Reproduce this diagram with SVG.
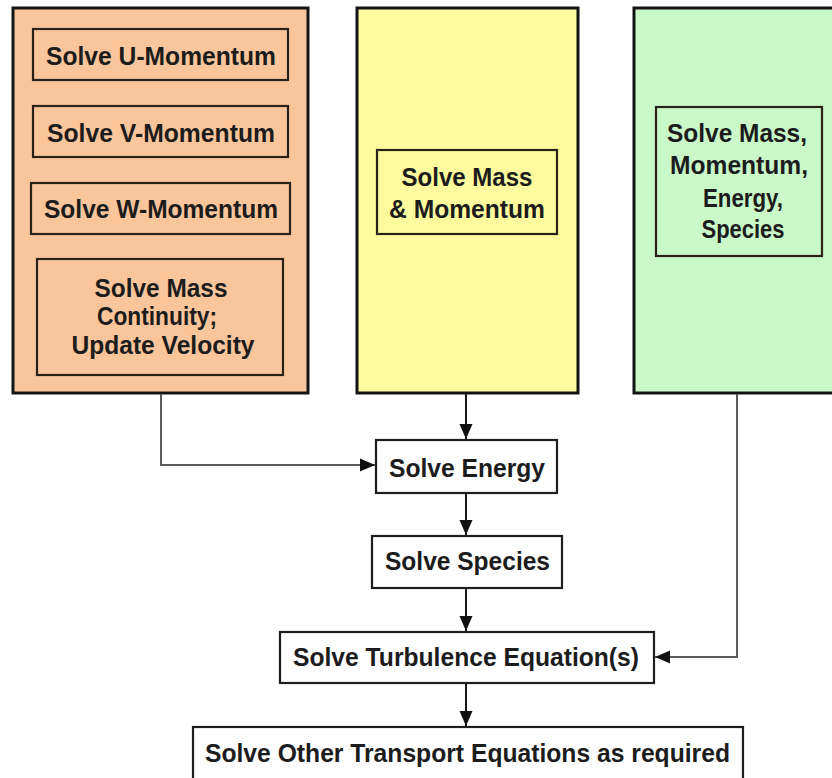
<svg xmlns="http://www.w3.org/2000/svg" width="832" height="778" viewBox="0 0 832 778">
<defs>
<style>
.panel{stroke:#141414;stroke-width:3}
.inner{stroke:#2a2218;stroke-width:2.2}
.box{fill:#ffffff;stroke:#1e1e1e;stroke-width:2.2}
.t{font-family:"Liberation Sans",Arial,sans-serif;font-weight:bold;font-size:26px;fill:#1c1c1c;text-anchor:middle}
.conn{fill:none;stroke:#5a5a5a;stroke-width:2}
.dark{stroke:#1a1a1a}
</style>
<marker id="ah" markerWidth="16" markerHeight="14" refX="15" refY="7" orient="auto" markerUnits="userSpaceOnUse">
<path d="M0,0.5 L15,7 L0,13.5 Z" fill="#111"/>
</marker>
</defs>
<rect width="832" height="778" fill="#ffffff"/>

<g id="panel-orange">
<rect class="panel" x="13" y="8" width="295" height="385" fill="#FBC59B"/>
</g>
<g id="u-momentum">
<rect class="inner" x="33" y="29" width="255" height="51" fill="#FBC59B"/>
<text class="t" x="161" y="65" textLength="230" lengthAdjust="spacingAndGlyphs">Solve U-Momentum</text>
</g>
<g id="v-momentum">
<rect class="inner" x="33" y="106" width="255" height="51" fill="#FBC59B"/>
<text class="t" x="161" y="142" textLength="228" lengthAdjust="spacingAndGlyphs">Solve V-Momentum</text>
</g>
<g id="w-momentum">
<rect class="inner" x="31" y="183" width="259" height="51" fill="#FBC59B"/>
<text class="t" x="161" y="218" textLength="234" lengthAdjust="spacingAndGlyphs">Solve W-Momentum</text>
</g>
<g id="mass-continuity">
<rect class="inner" x="37" y="259" width="246" height="116" fill="#FBC59B"/>
<text class="t" x="161" y="297" textLength="133" lengthAdjust="spacingAndGlyphs">Solve Mass</text>
<text class="t" x="157" y="325" textLength="120" lengthAdjust="spacingAndGlyphs">Continuity;</text>
<text class="t" x="163" y="354" textLength="183" lengthAdjust="spacingAndGlyphs">Update Velocity</text>
</g>

<g id="panel-yellow">
<rect class="panel" x="357" y="8" width="221" height="385" fill="#FEFB9E"/>
</g>
<g id="mass-momentum">
<rect class="inner" x="377" y="150" width="180" height="84" fill="#FEFB9E"/>
<text class="t" x="467" y="186" textLength="131" lengthAdjust="spacingAndGlyphs">Solve Mass</text>
<text class="t" x="467" y="218" textLength="156" lengthAdjust="spacingAndGlyphs">&amp; Momentum</text>
</g>

<g id="panel-green">
<rect class="panel" x="634" y="8" width="210" height="385" fill="#CAF8C8"/>
</g>
<g id="mass-momentum-energy-species">
<rect class="inner" x="656" y="107" width="166" height="149" fill="#CAF8C8"/>
<text class="t" x="737" y="142" textLength="140" lengthAdjust="spacingAndGlyphs">Solve Mass,</text>
<text class="t" x="739" y="174" textLength="138" lengthAdjust="spacingAndGlyphs">Momentum,</text>
<text class="t" x="743" y="207" textLength="80" lengthAdjust="spacingAndGlyphs">Energy,</text>
<text class="t" x="743" y="238" textLength="83" lengthAdjust="spacingAndGlyphs">Species</text>
</g>

<g id="energy">
<rect class="box" x="376" y="440" width="181" height="53"/>
<text class="t" x="467" y="477" textLength="156" lengthAdjust="spacingAndGlyphs">Solve Energy</text>
</g>
<g id="species">
<rect class="box" x="372" y="536" width="190" height="52"/>
<text class="t" x="467.5" y="570" textLength="165" lengthAdjust="spacingAndGlyphs">Solve Species</text>
</g>
<g id="turbulence">
<rect class="box" x="280" y="632" width="374" height="51"/>
<text class="t" x="466" y="666" textLength="346" lengthAdjust="spacingAndGlyphs">Solve Turbulence Equation(s)</text>
</g>
<g id="other-transport">
<rect class="box" x="193" y="727" width="550" height="60"/>
<text class="t" x="467.5" y="762" textLength="525" lengthAdjust="spacingAndGlyphs">Solve Other Transport Equations as required</text>
</g>

<g id="connectors">
<path class="conn" d="M161,394 V465 H375" marker-end="url(#ah)"/>
<path class="conn dark" d="M466,394 V439" marker-end="url(#ah)"/>
<path class="conn dark" d="M466,494 V535" marker-end="url(#ah)"/>
<path class="conn dark" d="M466,589 V631" marker-end="url(#ah)"/>
<path class="conn" d="M737,394 V657 H655" marker-end="url(#ah)"/>
<path class="conn dark" d="M466,684 V726" marker-end="url(#ah)"/>
</g>
</svg>
